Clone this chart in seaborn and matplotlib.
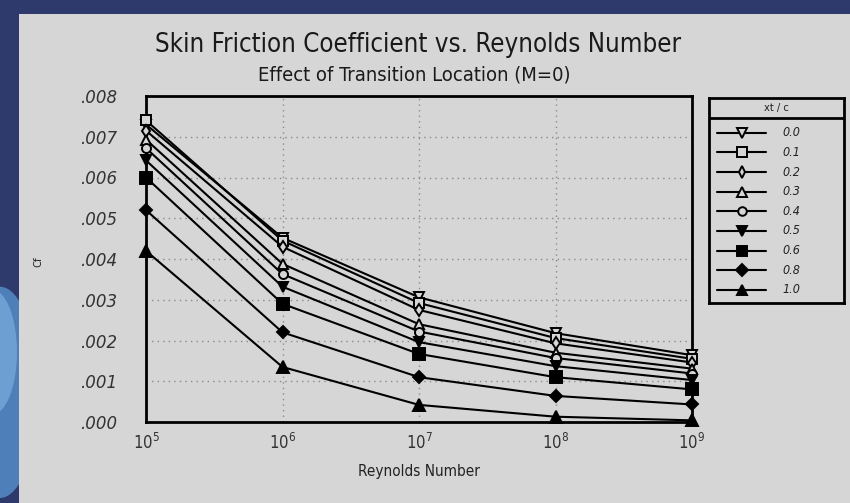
import matplotlib
matplotlib.use("Agg")
import matplotlib.pyplot as plt
from matplotlib.patches import Rectangle, Ellipse
from matplotlib.lines import Line2D
import numpy as np
import pandas as pd
import seaborn as sns

# Reynolds numbers at which the skin friction coefficient is tabulated
reynolds = [1e5, 1e6, 1e7, 1e8, 1e9]

# Transition location (fraction of chord) for each curve
transition_labels = ["0.0", "0.1", "0.2", "0.3", "0.4", "0.5", "0.6", "0.8", "1.0"]

# Skin friction coefficient Cf for each transition location
cf_00 = [0.00730, 0.00452, 0.00306, 0.00218, 0.00164]
cf_01 = [0.00740, 0.00445, 0.00292, 0.00206, 0.00155]
cf_02 = [0.00715, 0.00430, 0.00275, 0.00193, 0.00146]
cf_03 = [0.00693, 0.00388, 0.00240, 0.00170, 0.00131]
cf_04 = [0.00672, 0.00363, 0.00222, 0.00157, 0.00119]
cf_05 = [0.00642, 0.00332, 0.00196, 0.00137, 0.00103]
cf_06 = [0.00600, 0.00290, 0.00167, 0.00110, 0.00080]
cf_08 = [0.00520, 0.00220, 0.00110, 0.00064, 0.00043]
cf_10 = [0.00420, 0.00135, 0.00042, 0.00013, 0.00004]

cf_series = [cf_00, cf_01, cf_02, cf_03, cf_04, cf_05, cf_06, cf_08, cf_10]

y_ticks = [0.000, 0.001, 0.002, 0.003, 0.004, 0.005, 0.006, 0.007, 0.008]
y_tick_labels = [".000", ".001", ".002", ".003", ".004", ".005", ".006", ".007", ".008"]
x_tick_labels = ["$10^{5}$", "$10^{6}$", "$10^{7}$", "$10^{8}$", "$10^{9}$"]

records = []
for lab, vals in zip(transition_labels, cf_series):
    for re_, cf in zip(reynolds, vals):
        records.append({"xt/c": lab, "Re": re_, "Cf": cf})
df = pd.DataFrame(records)

PANEL = "#d6d6d6"
NAVY = "#2f3a6c"

# marker style per transition location: (marker, filled, size)
styles = {
    "0.0": ("v", False, 7.5),
    "0.1": ("s", False, 7.0),
    "0.2": ("d", False, 6.0),
    "0.3": ("^", False, 7.0),
    "0.4": ("o", False, 6.5),
    "0.5": ("v", True, 7.5),
    "0.6": ("s", True, 8.0),
    "0.8": ("D", True, 6.5),
    "1.0": ("^", True, 8.0),
}

sns.set_theme(style="white")
plt.rcParams["font.family"] = ["DejaVu Sans"]
plt.rcParams["font.stretch"] = "condensed"
plt.rcParams["mathtext.default"] = "regular"

fig = plt.figure(figsize=(8.5, 5.03), dpi=100)
fig.patch.set_facecolor(NAVY)

# decorative background and light panel
fig.patches.append(Ellipse((0.0, 0.22), 0.09, 0.42, transform=fig.transFigure,
                           facecolor="#4f7fb8", edgecolor="none", zorder=-3))
fig.patches.append(Ellipse((-0.01, 0.30), 0.06, 0.25, transform=fig.transFigure,
                           facecolor="#6d9fd2", edgecolor="none", zorder=-2))
fig.patches.append(Rectangle((19 / 850, 0), 1 - 19 / 850, (503 - 14) / 503,
                             transform=fig.transFigure, facecolor=PANEL,
                             edgecolor="none", zorder=-1))

ax = fig.add_axes([146 / 850, (503 - 422) / 503, 546 / 850, 326 / 503])
ax.set_facecolor(PANEL)

for lab in transition_labels:
    mk, filled, ms = styles[lab]
    sub = df[df["xt/c"] == lab]
    sns.lineplot(data=sub, x="Re", y="Cf", ax=ax, color="black", linewidth=1.5,
                 marker=mk, markersize=ms, markeredgewidth=1.4,
                 markeredgecolor="black",
                 markerfacecolor="black" if filled else PANEL,
                 clip_on=False, zorder=3, legend=False)

ax.set_xscale("log")
ax.set_xlim(1e5, 1e9)
ax.set_ylim(0, 0.008)
ax.set_xticks(reynolds)
ax.set_xticklabels(x_tick_labels, fontsize=12, color="#333333")
ax.minorticks_off()
ax.set_yticks(y_ticks)
ax.set_yticklabels(y_tick_labels, fontsize=12, style="italic", color="#333333",
                   fontstretch="normal")
ax.tick_params(axis="both", length=0)
ax.tick_params(axis="y", pad=21)
ax.tick_params(axis="x", pad=8)

ax.grid(True, which="major", color="#8a8a8a", linestyle=(0, (1, 3)), linewidth=1.0)
for s in ax.spines.values():
    s.set_visible(True)
    s.set_color("black")
    s.set_linewidth(2.0)

ax.set_xlabel("Reynolds Number", fontsize=11, color="#222222", labelpad=8)
ax.set_ylabel("")
fig.text(38 / 850, 1 - 262 / 503, "Cf", rotation=90, fontsize=8, color="#222222",
         ha="center", va="center")

fig.text(418 / 850, 1 - 45 / 503, "Skin Friction Coefficient vs. Reynolds Number",
         fontsize=18.5, ha="center", va="center", color="#1a1a1a")
fig.text(414 / 850, 1 - 75 / 503, "Effect of Transition Location (M=0)",
         fontsize=14.5, ha="center", va="center", color="#1a1a1a")

# legend panel
lax = fig.add_axes([709 / 850, (503 - 303) / 503, 135 / 850, 205 / 503])
lax.set_facecolor(PANEL)
lax.set_xlim(0, 135)
lax.set_ylim(205, 0)
lax.set_xticks([])
lax.set_yticks([])
for s in lax.spines.values():
    s.set_color("black")
    s.set_linewidth(2.0)
lax.add_line(Line2D([0, 135], [20, 20], color="black", linewidth=2.0))
lax.text(67.5, 10, "xt / c", ha="center", va="center", fontsize=8, color="#222222")
for i, lab in enumerate(transition_labels):
    mk, filled, ms = styles[lab]
    yy = 34.7 + i * 19.66
    lax.add_line(Line2D([8, 57], [yy, yy], color="black", linewidth=1.5))
    lax.add_line(Line2D([32.5], [yy], marker=mk, markersize=ms * 0.95,
                        markeredgewidth=1.4, markeredgecolor="black",
                        markerfacecolor="black" if filled else PANEL, linestyle="none"))
    lax.text(73, yy, lab, ha="left", va="center", fontsize=9, style="italic",
             color="#222222")

fig.savefig("out.png", dpi=100, facecolor=fig.get_facecolor())
